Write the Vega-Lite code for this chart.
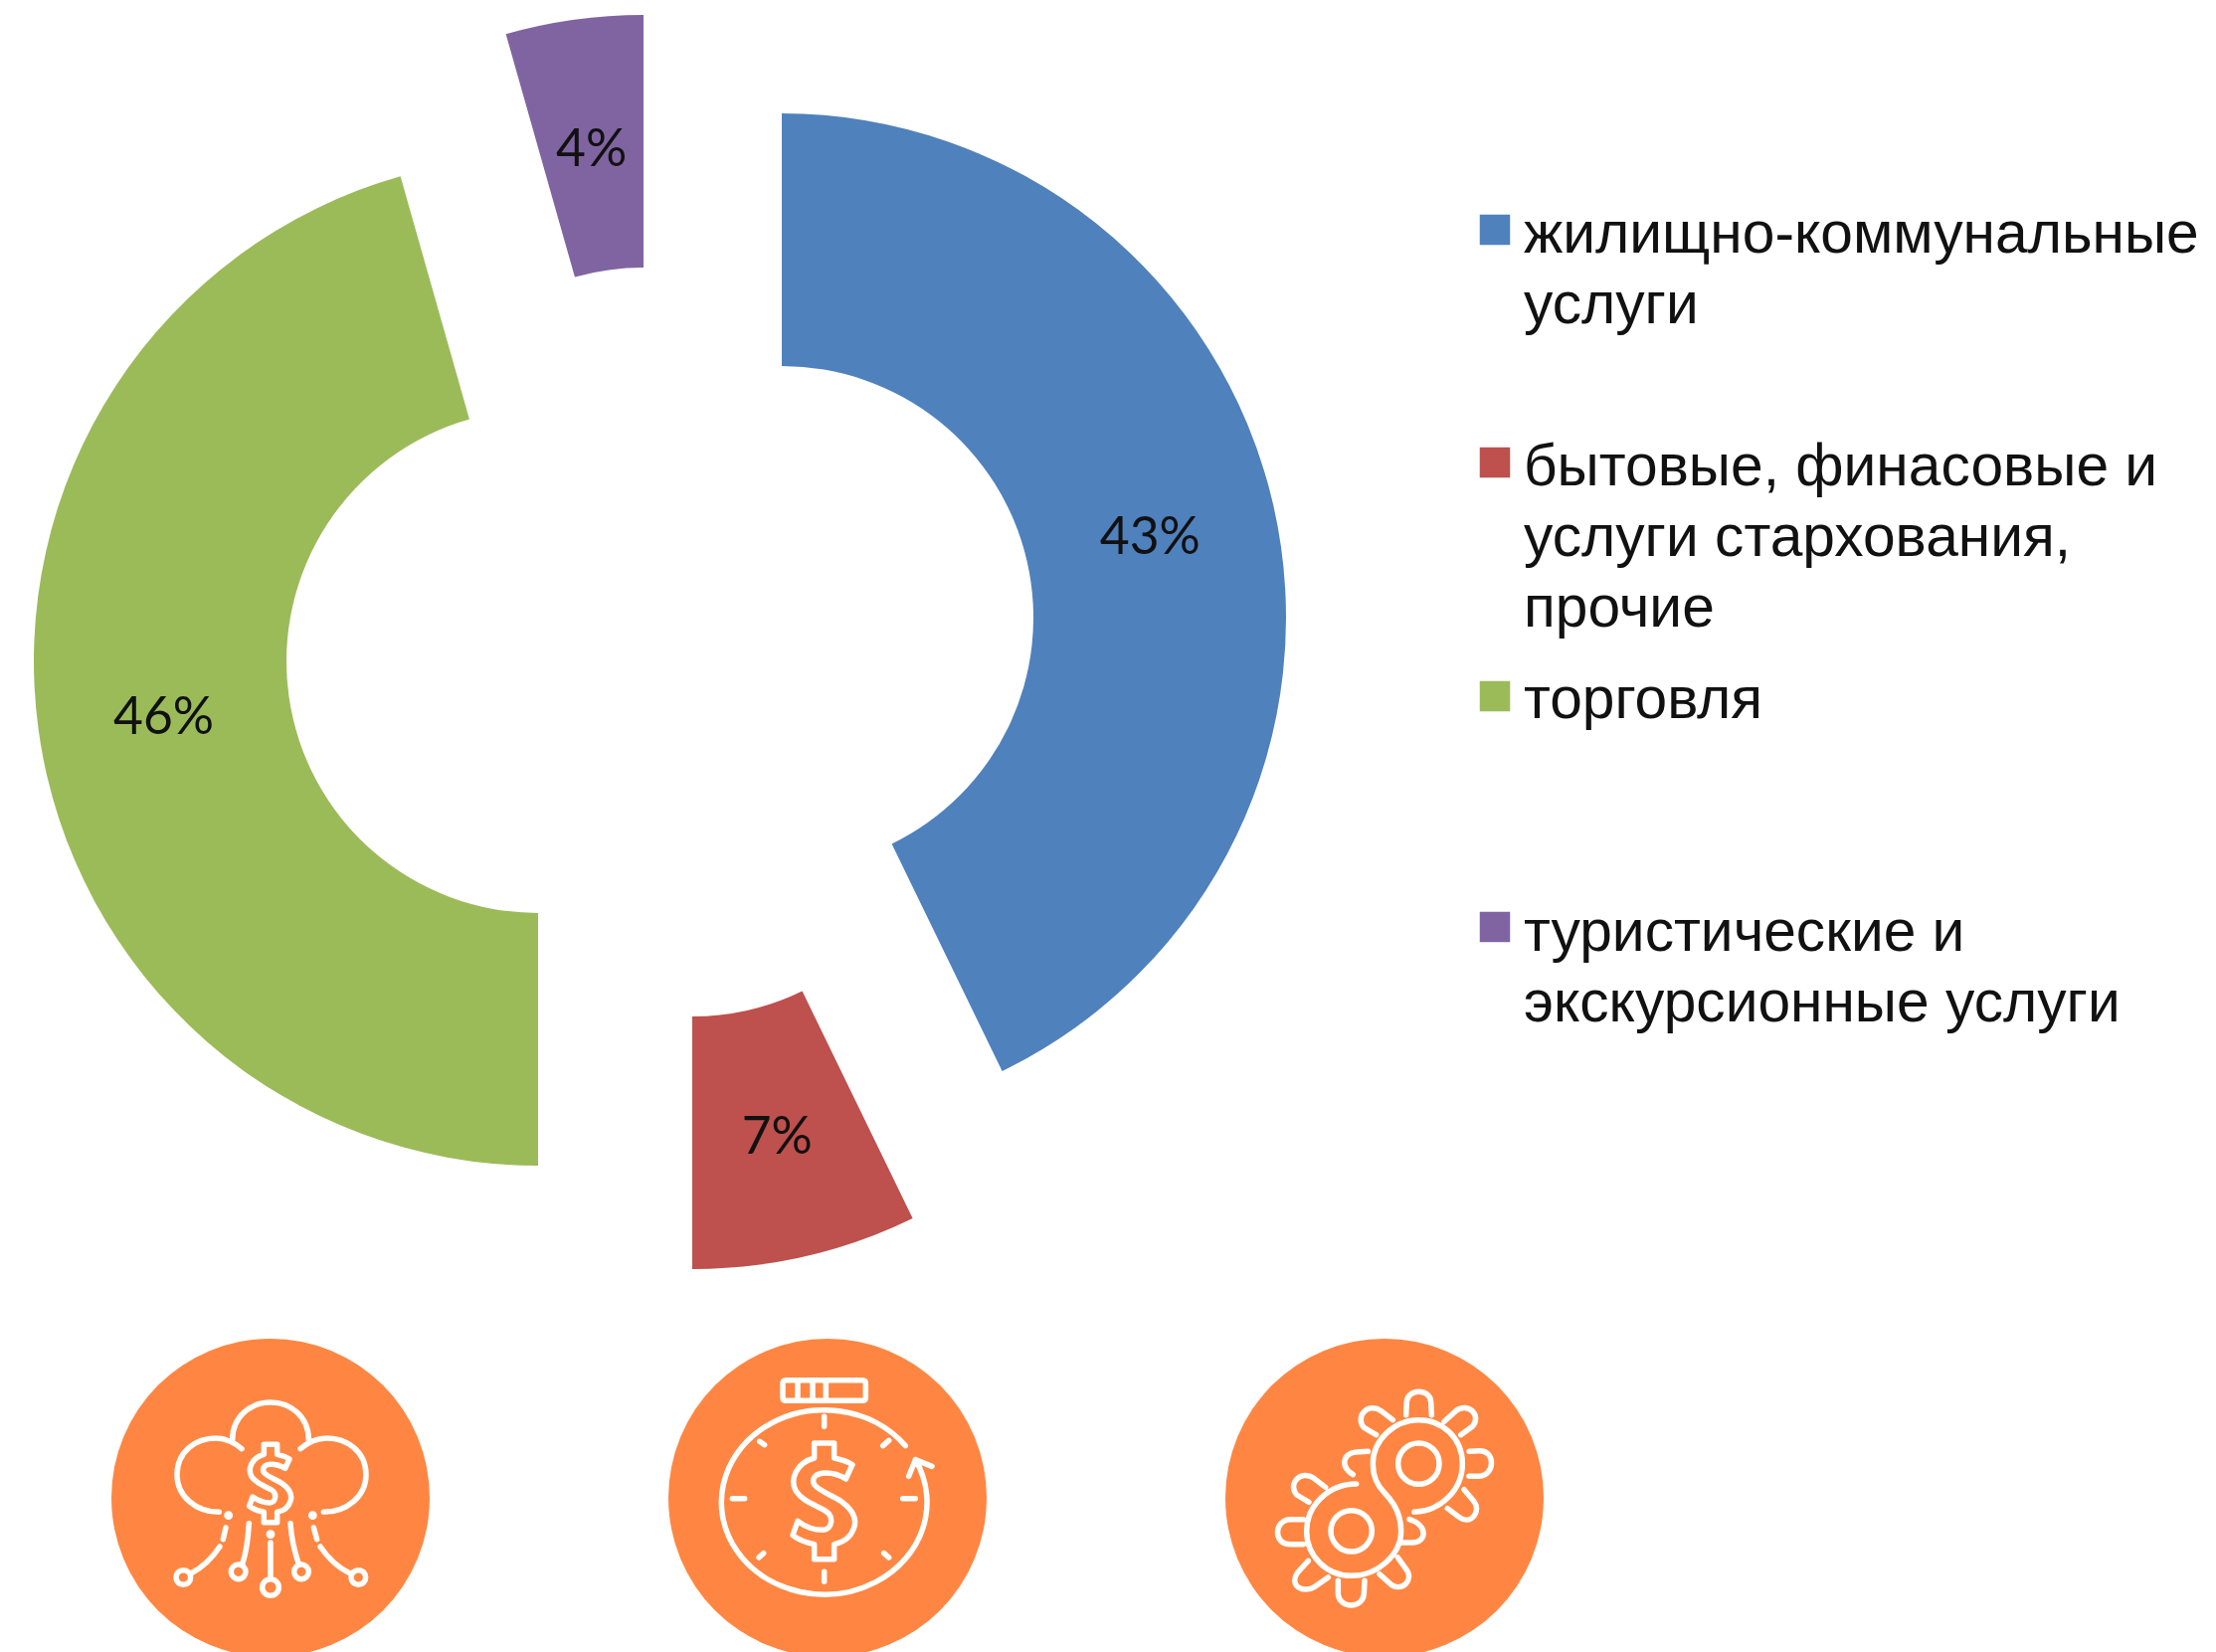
{"$schema":"https://vega.github.io/schema/vega-lite/v6.json","width":2228,"height":1661,"padding":0,"autosize":{"type":"none"},"background":"#ffffff","config":{"view":{"stroke":null}},
"datasets":{"shares":[
{"n":1,"name":"жилищно-коммунальные услуги","label":"жилищно-коммунальные\nуслуги","value":42.8},
{"n":2,"name":"бытовые, финасовые и услуги стархования, прочие","label":"бытовые, финасовые и\nуслуги стархования,\nпрочие","value":7.2},
{"n":3,"name":"торговля","label":"торговля","value":45.6},
{"n":4,"name":"туристические и экскурсионные услуги","label":"туристические и\nэкскурсионные услуги","value":4.4}],
"icons":[{"k":1,"icon":"cloud"},{"k":2,"icon":"clock"},{"k":3,"icon":"gears"}]},
"layer":[
{"data":{"name":"shares"},
"transform":[{"stack":"value","groupby":[],"sort":[{"field":"n","order":"ascending"}],"as":["start","end"]}],
"mark":{"type":"arc","radius":507,"radius2":253},
"encoding":{
"x":{"field":"n","type":"quantitative","axis":null,"scale":{"domain":[1,2,3,4],"range":[786,696,541,647],"zero":false,"nice":false}},
"y":{"field":"n","type":"quantitative","axis":null,"scale":{"domain":[1,2,3,4],"range":[621,769,665,522],"zero":false,"nice":false}},
"theta":{"field":"start","type":"quantitative","scale":{"domain":[0,100],"range":[0,6.283185],"zero":false,"nice":false}},
"theta2":{"field":"end"},
"color":{"field":"name","type":"nominal","legend":null,"sort":null,"scale":{"domain":["жилищно-коммунальные услуги","бытовые, финасовые и услуги стархования, прочие","торговля","туристические и экскурсионные услуги"],"range":["#4F81BD","#BE504D","#9BBB59","#8064A2"]}}}},
{"data":{"name":"shares"},
"transform":[{"stack":"value","groupby":[],"sort":[{"field":"n","order":"ascending"}],"as":["start","end"]},{"calculate":"(datum.start+datum.end)/2","as":"mid"},{"calculate":"format(datum.value,'.0f')+'%'","as":"pct"}],
"mark":{"type":"text","radius":380,"dy":6,"font":"Lato","fontSize":51.5,"fill":"#111111","align":"center","baseline":"middle"},
"encoding":{
"x":{"field":"n","type":"quantitative","axis":null,"scale":{"domain":[1,2,3,4],"range":[786,696,541,647],"zero":false,"nice":false}},
"y":{"field":"n","type":"quantitative","axis":null,"scale":{"domain":[1,2,3,4],"range":[621,769,665,522],"zero":false,"nice":false}},
"theta":{"field":"mid","type":"quantitative","scale":{"domain":[0,100],"range":[0,6.283185],"zero":false,"nice":false}},
"text":{"field":"pct","type":"nominal"}}},
{"data":{"name":"shares"},
"mark":{"type":"square","size":930,"opacity":1},
"encoding":{
"x":{"field":"n","type":"quantitative","axis":null,"scale":{"domain":[1,4],"range":[1503,1503],"zero":false,"nice":false}},
"y":{"field":"n","type":"quantitative","axis":null,"scale":{"domain":[1,2,3,4],"range":[231,465,700,932],"zero":false,"nice":false}},
"color":{"field":"name","type":"nominal","legend":null,"sort":null}}},
{"data":{"name":"shares"},
"mark":{"type":"text","font":"Liberation Sans","fontSize":58.7,"fill":"#111111","align":"left","baseline":"alphabetic","lineBreak":"\n","lineHeight":71},
"encoding":{
"x":{"field":"n","type":"quantitative","axis":null,"scale":{"domain":[1,4],"range":[1532,1532],"zero":false,"nice":false}},
"y":{"field":"n","type":"quantitative","axis":null,"scale":{"domain":[1,2,3,4],"range":[254,488,722,956],"zero":false,"nice":false}},
"text":{"field":"label","type":"nominal"}}},
{"data":{"name":"icons"},
"mark":{"type":"circle","size":102400,"color":"#FF8642","opacity":1},
"encoding":{
"x":{"field":"k","type":"quantitative","axis":null,"scale":{"domain":[1,2,3],"range":[272,832,1392],"zero":false,"nice":false}},
"y":{"field":"k","type":"quantitative","axis":null,"scale":{"domain":[1,3],"range":[1506,1506],"zero":false,"nice":false}}}},
{"data":{"name":"icons"},
"mark":{"type":"point","filled":false,"stroke":"#ffffff","strokeWidth":5.5,"strokeCap":"round","strokeJoin":"round","opacity":1,"size":0.44444},
"encoding":{
"x":{"field":"k","type":"quantitative","axis":null,"scale":{"domain":[1,2,3],"range":[272,832,1392],"zero":false,"nice":false}},
"y":{"field":"k","type":"quantitative","axis":null,"scale":{"domain":[1,3],"range":[1506,1506],"zero":false,"nice":false}},
"shape":{"field":"icon","type":"nominal","legend":null,"scale":{"domain":["cloud","clock","gears"],"range":[
"M-155 43C-225 43 -282 -5 -282 -70C-282 -140 -225 -180 -165 -180C-135 -180 -105 -165 -87 -148M-115 -175C-115 -245 -60 -288 0 -288C60 -288 115 -245 115 -175M160 43C230 43 288 -5 288 -70C288 -140 230 -180 170 -180C140 -180 110 -165 90 -148M-20 -161L20 -161L20 -131C37 -127 47 -124 57 -117L44 -89C30 -97 17 -101 3 -101C-17 -101 -27 -91 -20 -77C-10 -64 13 -57 34 -44C57 -27 67 -10 60 10C54 30 37 40 20 43L20 74L-20 74L-20 43C-37 40 -54 33 -64 25L-54 -3C-40 7 -23 15 -3 15C17 15 20 -14 3 -24C-20 -37 -44 -44 -57 -64C-70 -87 -57 -121 -20 -131ZM-132 53a5 5 0 1 0 10 0a5 5 0 1 0 -10 0M122 53a5 5 0 1 0 10 0a5 5 0 1 0 -10 0M-5 110a5 5 0 1 0 10 0a5 5 0 1 0 -10 0M-135 90L-143 125M130 90L140 125M-153 147C-175 180 -205 210 -240 228M150 147C172 180 202 210 240 228M-65 77C-68 130 -75 170 -85 200M60 77C63 130 75 170 85 200M0 135L0 245M-285 240a22 22 0 1 0 44 0a22 22 0 1 0 -44 0M243 240a22 22 0 1 0 44 0a22 22 0 1 0 -44 0M-119 223a22 22 0 1 0 44 0a22 22 0 1 0 -44 0M71 223a22 22 0 1 0 44 0a22 22 0 1 0 -44 0M-25 270a25 25 0 1 0 50 0a25 25 0 1 0 -50 0",
"M235 -157A310 278 0 1 0 265 -115M245 -65L265 -115L315 -95M-135 -345Q-135 -355 -125 -355L105 -355Q115 -355 115 -345L115 -303Q115 -293 105 -293L-125 -293Q-135 -293 -135 -303ZM-90 -355L-90 -293M-45 -355L-45 -293M-5 -355L-5 -293M-10 -245L-10 -215M-10 223L-10 253M-287 2L-250 2M227 2L265 2M-205 -170L-190 -160M185 -173L167 -157M-193 167L-207 180M170 167L185 180M-40 -165L20 -165L20 -120C45 -115 60 -110 75 -100L55 -57C35 -70 15 -75 -5 -75C-35 -75 -50 -60 -40 -40C-25 -20 10 -10 40 10C75 35 90 60 80 90C70 120 45 135 20 140L20 185L-40 185L-40 140C-65 135 -90 125 -105 113L-90 70C-70 85 -45 97 -15 97C15 97 20 55 -5 40C-40 20 -75 10 -95 -20C-115 -55 -95 -105 -40 -120Z",
"M41 -103a62 62 0 1 0 124 0a62 62 0 1 0 -124 0M-162 100a62 62 0 1 0 124 0a62 62 0 1 0 -124 0M90 43C170 40 235 -25 235 -103C235 -180 175 -235 103 -235C30 -235 -35 -175 -35 -103C-35 -65 -20 -35 0 -15C30 15 50 50 50 100C50 175 -25 235 -100 235C-175 235 -235 175 -235 100C-235 25 -170 -42 -85 -42M65 -250L67 -290C70 -330 137 -330 140 -290L142 -250M255 -140L285 -142C335 -145 335 -68 285 -65L255 -65M25 -235L-10 -262C-50 -290 -90 -245 -62 -212L-25 -190M180 -230L215 -262C250 -290 295 -250 265 -215L230 -190M190 32L225 58C260 85 295 40 268 8L240 -25M-50 -140L-85 -138C-125 -135 -135 -95 -95 -70M-178 -32L-213 -59C-253 -87 -293 -42 -265 -9L-228 13M-245 65L-285 65C-335 68 -335 142 -285 140L-245 140M-230 190L-262 225C-290 265 -245 290 -210 268L-170 240M-140 250L-140 290C-137 335 -65 335 -62 290L-60 250M-15 230L20 262C55 285 90 245 65 215L40 180M45 135L85 135C125 135 135 85 75 65"
]}}}}
],
"resolve":{"scale":{"x":"independent","y":"independent"}}}
